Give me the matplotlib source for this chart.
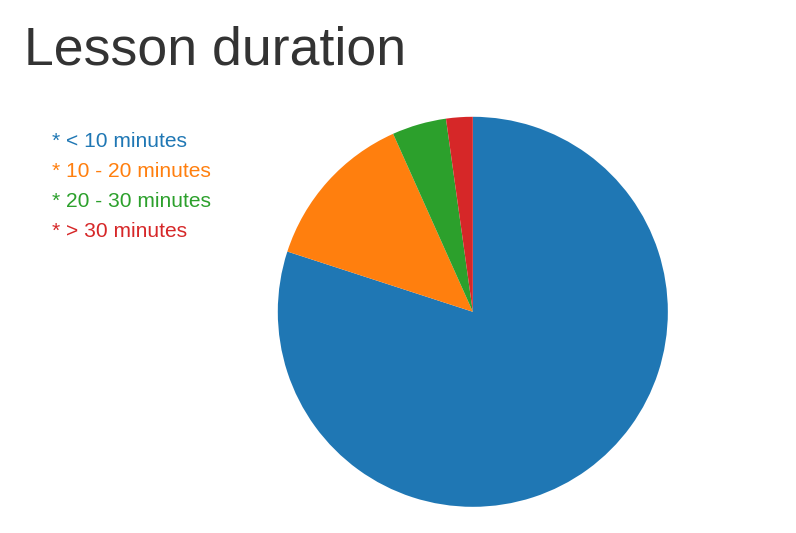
import matplotlib.pyplot as plt

labels = ['< 10 minutes', '10 - 20 minutes', '20 - 30 minutes', '> 30 minutes']
shares = [80.0, 13.3, 4.5, 2.2]
colors = ['#1f77b4', '#ff7f0e', '#2ca02c', '#d62728']

plt.rcParams['font.family'] = ['Liberation Sans', 'DejaVu Sans']

fig = plt.figure(figsize=(7.96, 5.33), dpi=100)
ax = fig.add_axes([0.349, 0.049, 0.49, 0.732])
ax.pie(shares, colors=colors, startangle=90, counterclock=False,
       wedgeprops={'linewidth': 0})
ax.set_xlim(-1, 1)
ax.set_ylim(-1, 1)
ax.set_aspect('equal')

fig.text(24 / 796, 1 - 64 / 533, 'Lesson duration', fontsize=38.6,
         color='#333333', ha='left', va='baseline')

for i, (lab, col) in enumerate(zip(labels, colors)):
    fig.text(52 / 796, 1 - (147 + 30 * i) / 533, '* ' + lab, fontsize=15.1,
             color=col, ha='left', va='baseline')

fig.savefig('out.png', dpi=100)
